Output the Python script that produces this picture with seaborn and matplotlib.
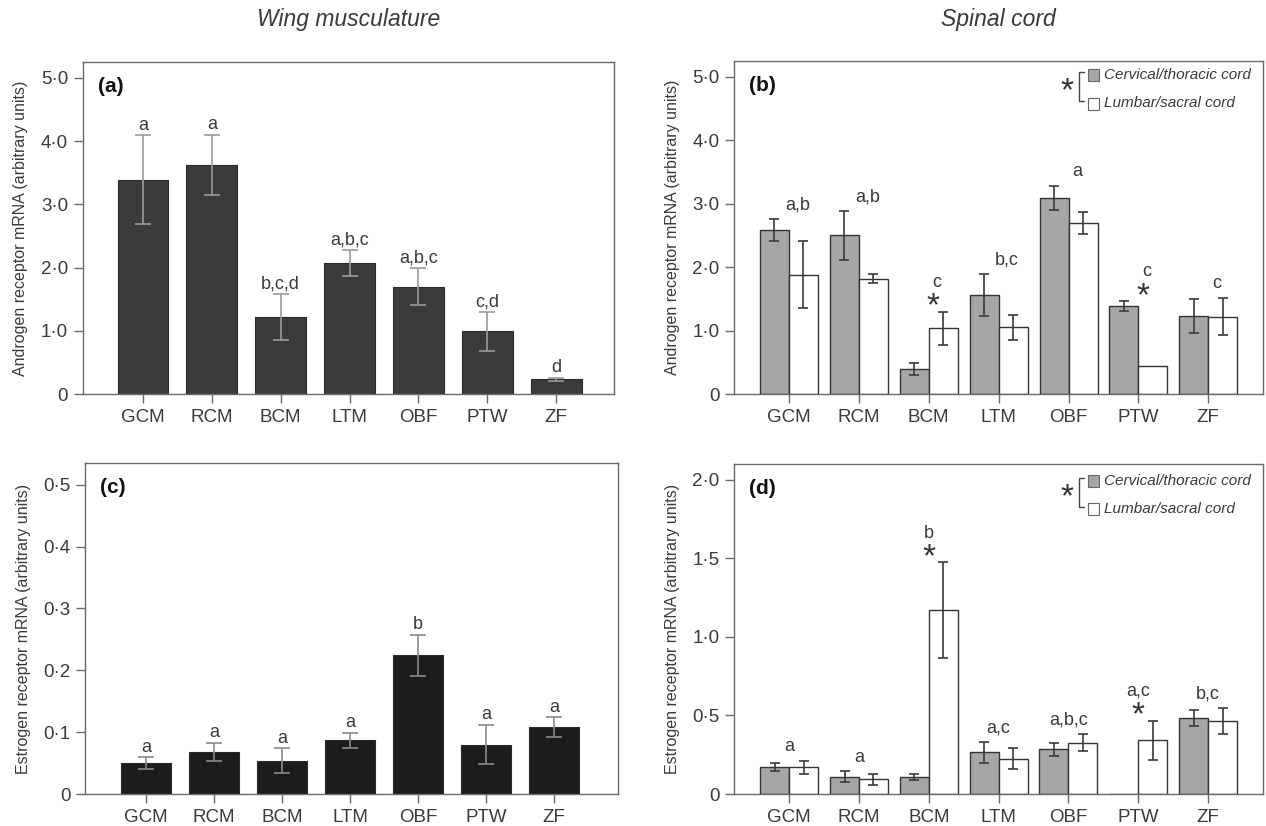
import numpy as np
import pandas as pd
import seaborn as sns
import matplotlib
matplotlib.use("Agg")
import matplotlib.pyplot as plt
from matplotlib.patches import Rectangle

# ---- data ----
muscles = ["GCM", "RCM", "BCM", "LTM", "OBF", "PTW", "ZF"]
regions = ["Cervical/thoracic cord", "Lumbar/sacral cord"]

# (a) androgen receptor, wing musculature
ar_muscle = [3.39, 3.62, 1.22, 2.07, 1.70, 0.99, 0.23]
ar_muscle_sem = [0.70, 0.48, 0.36, 0.21, 0.29, 0.31, 0.025]
ar_muscle_letters = ["a", "a", "b,c,d", "a,b,c", "a,b,c", "c,d", "d"]

# (b) androgen receptor, spinal cord
ar_cervical = [2.58, 2.50, 0.40, 1.56, 3.09, 1.39, 1.23]
ar_cervical_sem = [0.175, 0.39, 0.095, 0.335, 0.195, 0.08, 0.265]
ar_lumbar = [1.88, 1.82, 1.04, 1.05, 2.69, 0.44, 1.22]
ar_lumbar_sem = [0.53, 0.065, 0.26, 0.20, 0.175, 0.0, 0.295]
ar_cord_letters = ["a,b", "a,b", "c", "b,c", "a", "c", "c"]
ar_cord_star = [False, False, True, False, False, True, False]

# (c) estrogen receptor, wing musculature
er_muscle = [0.050, 0.068, 0.054, 0.087, 0.224, 0.080, 0.108]
er_muscle_sem = [0.0095, 0.015, 0.020, 0.012, 0.0335, 0.032, 0.016]
er_muscle_letters = ["a", "a", "a", "a", "b", "a", "a"]

# (d) estrogen receptor, spinal cord
er_cervical = [0.170, 0.110, 0.107, 0.265, 0.284, 0.0, 0.483]
er_cervical_sem = [0.025, 0.035, 0.019, 0.065, 0.039, 0.0, 0.053]
er_lumbar = [0.170, 0.095, 1.17, 0.225, 0.327, 0.342, 0.464]
er_lumbar_sem = [0.041, 0.035, 0.304, 0.065, 0.053, 0.125, 0.083]
er_cord_letters = ["a", "a", "b", "a,c", "a,b,c", "a,c", "b,c"]
er_cord_star = [False, False, True, False, False, True, False]

# ---- style ----
sns.set_theme(style="white")
plt.rcParams["font.family"] = ["Liberation Sans", "DejaVu Sans"]
TXT = "#3a3a3a"
AXC = "#6a6a6a"
plt.rcParams.update({
    "text.color": TXT, "axes.labelcolor": TXT,
    "xtick.color": TXT, "ytick.color": TXT,
    "axes.edgecolor": AXC, "axes.linewidth": 1.0,
})

fig = plt.figure(figsize=(12.66, 8.26), dpi=100)
ax_a = fig.add_axes([0.0653, 0.5230, 0.4197, 0.4019])
ax_b = fig.add_axes([0.5798, 0.5230, 0.4180, 0.4031])
ax_c = fig.add_axes([0.0671, 0.0387, 0.4210, 0.4008])
ax_d = fig.add_axes([0.5798, 0.0387, 0.4180, 0.3996])


def dot_fmt(ticks):
    return [("0" if t == 0 else f"{t:.1f}".replace(".", "\u00b7")) for t in ticks]


def style_axes(ax, ylim, yticks, xlim, ylabel, tag):
    ax.set_ylim(*ylim)
    ax.set_xlim(*xlim)
    ax.set_yticks(yticks)
    ax.set_yticklabels(dot_fmt(yticks), fontsize=13.5)
    ax.set_xticks(range(len(muscles)))
    ax.set_xticklabels(muscles, fontsize=13.5)
    ax.tick_params(axis="both", direction="out", length=6.5, width=1.0,
                   color=AXC, bottom=True, left=True, pad=4)
    ax.set_xlabel("")
    ax.set_ylabel(ylabel, fontsize=11.5, labelpad=9)
    for s in ax.spines.values():
        s.set_color(AXC)
    ax.text(0.029, 0.955, tag, transform=ax.transAxes, fontsize=15,
            fontweight="bold", color="#111111", va="top", ha="left")


def single_panel(ax, vals, sems, letters, color, ecolor):
    df = pd.DataFrame({"muscle": muscles, "value": vals})
    sns.barplot(data=df, x="muscle", y="value", color=color, width=0.74,
                errorbar=None, edgecolor="#2a2a2a", linewidth=0.8,
                saturation=1, ax=ax)
    xs = np.arange(len(muscles))
    ax.errorbar(xs, vals, yerr=sems, fmt="none", ecolor=ecolor,
                elinewidth=1.2, capsize=6, capthick=1.2, zorder=5)
    for x, v, e, lab in zip(xs, vals, sems, letters):
        ax.annotate(lab, xy=(x, v + e), xytext=(0, 1),
                    textcoords="offset points", ha="center", va="bottom",
                    fontsize=13, color=TXT)


def paired_panel(ax, cerv, cerv_sem, lumb, lumb_sem, letters, stars, dx, dy):
    df = pd.DataFrame({
        "muscle": muscles * 2,
        "value": cerv + lumb,
        "region": [regions[0]] * 7 + [regions[1]] * 7,
    })
    sns.barplot(data=df, x="muscle", y="value", hue="region",
                hue_order=regions, palette=["#a6a6a6", "#ffffff"],
                width=0.83, errorbar=None, edgecolor="#333333",
                linewidth=1.0, saturation=1, legend=False, ax=ax)
    for cont, vals, sems in zip(ax.containers, [cerv, lumb], [cerv_sem, lumb_sem]):
        xs = [p.get_x() + p.get_width() / 2 for p in cont.patches]
        for x, v, e in zip(xs, vals, sems):
            if e > 0:
                ax.errorbar(x, v, yerr=e, fmt="none", ecolor="#3a3a3a",
                            elinewidth=1.2, capsize=3.5, capthick=1.2, zorder=5)
    for i, (lab, st) in enumerate(zip(letters, stars)):
        top = max(cerv[i] + cerv_sem[i], lumb[i] + lumb_sem[i])
        if st:
            ax.annotate("*", xy=(i + dx * 0.5, top), xytext=(0, -8),
                        textcoords="offset points", ha="center", va="bottom",
                        fontsize=24, color="#333333")
            ax.annotate(lab, xy=(i + dx, top), xytext=(0, 15),
                        textcoords="offset points", ha="center", va="bottom",
                        fontsize=13, color=TXT)
        else:
            ax.annotate(lab, xy=(i + dx, top), xytext=(0, 4),
                        textcoords="offset points", ha="center", va="bottom",
                        fontsize=13, color=TXT)
    # legend with bracket
    tr = ax.transAxes
    w, h = 0.0226, 0.036
    x0 = 0.668
    ax.add_patch(Rectangle((x0, 0.930 + dy), w, h, transform=tr, facecolor="#a6a6a6",
                           edgecolor="#666666", lw=0.8, clip_on=False))
    ax.add_patch(Rectangle((x0, 0.845 + dy), w, h, transform=tr, facecolor="#ffffff",
                           edgecolor="#666666", lw=0.8, clip_on=False))
    ax.text(0.699, 0.948 + dy, regions[0], transform=tr, fontsize=11,
            style="italic", va="center", ha="left", color=TXT)
    ax.text(0.699, 0.864 + dy, regions[1], transform=tr, fontsize=11,
            style="italic", va="center", ha="left", color=TXT)
    bx = 0.651
    ax.plot([0.662, bx, bx, 0.662], [0.958 + dy, 0.958 + dy, 0.870 + dy, 0.870 + dy],
            transform=tr, color="#444444", lw=1.0, clip_on=False)
    ax.text(0.629, 0.899 + dy, "*", transform=tr, fontsize=24, ha="center",
            va="center", color="#333333")


single_panel(ax_a, ar_muscle, ar_muscle_sem, ar_muscle_letters, "#3b3b3d", "#9a9a9a")
style_axes(ax_a, (0, 5.25), [0, 1, 2, 3, 4, 5], (-0.876, 6.84),
           "Androgen receptor mRNA (arbitrary units)", "(a)")

paired_panel(ax_b, ar_cervical, ar_cervical_sem, ar_lumbar, ar_lumbar_sem,
             ar_cord_letters, ar_cord_star, 0.12, 0.009)
style_axes(ax_b, (0, 5.25), [0, 1, 2, 3, 4, 5], (-0.786, 6.786),
           "Androgen receptor mRNA (arbitrary units)", "(b)")

single_panel(ax_c, er_muscle, er_muscle_sem, er_muscle_letters, "#1c1c1c", "#8a8a8a")
style_axes(ax_c, (0, 0.535), [0, 0.1, 0.2, 0.3, 0.4, 0.5], (-0.9, 6.94),
           "Estrogen receptor mRNA (arbitrary units)", "(c)")

paired_panel(ax_d, er_cervical, er_cervical_sem, er_lumbar, er_lumbar_sem,
             er_cord_letters, er_cord_star, 0.0, 0.0)
style_axes(ax_d, (0, 2.10), [0, 0.5, 1.0, 1.5, 2.0], (-0.79, 6.79),
           "Estrogen receptor mRNA (arbitrary units)", "(d)")

fig.text(0.2750, 0.976, "Wing musculature", fontsize=16.5, style="italic",
         ha="center", va="center", color=TXT)
fig.text(0.7890, 0.976, "Spinal cord", fontsize=16.5, style="italic",
         ha="center", va="center", color=TXT)

fig.savefig("out.png", dpi=100)
